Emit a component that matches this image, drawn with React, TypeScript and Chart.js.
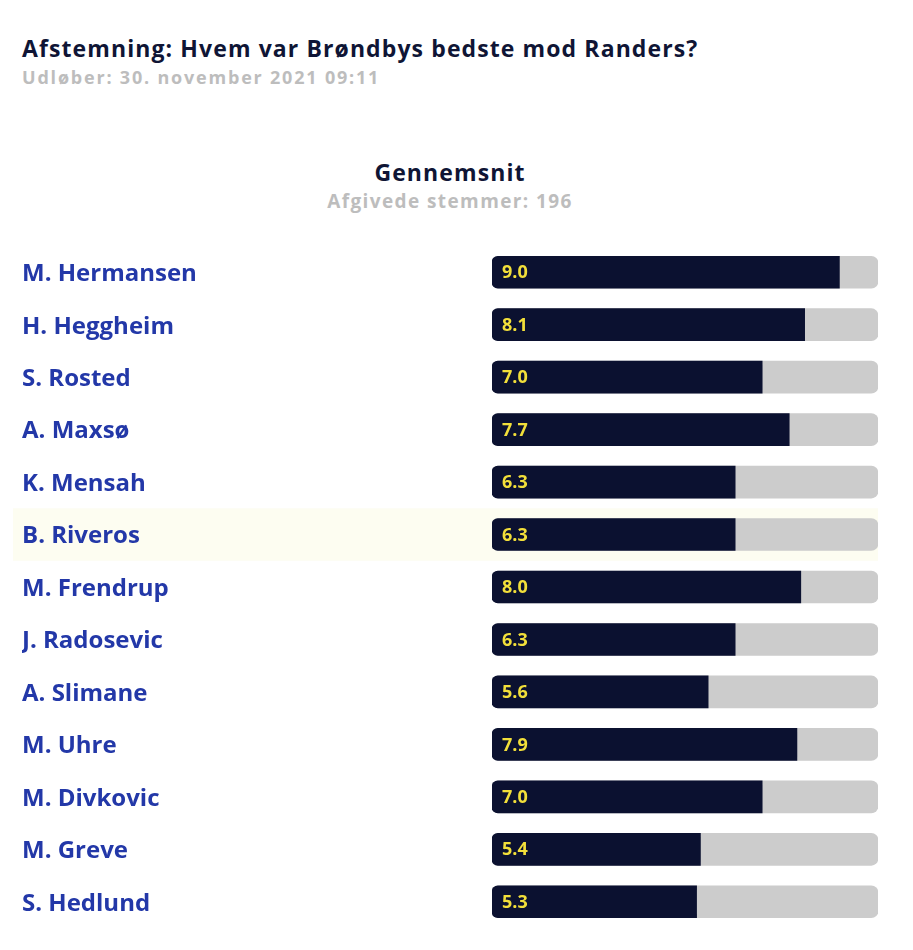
import React, { useEffect, useRef } from "react";
import { Chart, registerables } from "chart.js";

Chart.register(...registerables);

const players = [
  "M. Hermansen",
  "H. Heggheim",
  "S. Rosted",
  "A. Maxsø",
  "K. Mensah",
  "B. Riveros",
  "M. Frendrup",
  "J. Radosevic",
  "A. Slimane",
  "M. Uhre",
  "M. Divkovic",
  "M. Greve",
  "S. Hedlund",
];
const ratings = [9.0, 8.1, 7.0, 7.7, 6.3, 6.3, 8.0, 6.3, 5.6, 7.9, 7.0, 5.4, 5.3];
const maxRating = 10;
const highlightIndex = 5;

const FONT = "'Open Sans', Lato, sans-serif";

const highlightPlugin = {
  id: "rowHighlight",
  beforeDraw(chart: any) {
    const { ctx, chartArea, scales } = chart;
    const y = scales.y.getPixelForValue(highlightIndex);
    const step = (chartArea.bottom - chartArea.top) / players.length;
    ctx.save();
    ctx.fillStyle = "#fdfdf1";
    ctx.fillRect(13, y - step / 2, chartArea.right - 13, step);
    ctx.restore();
  },
};

const valueLabelPlugin = {
  id: "valueLabels",
  afterDatasetsDraw(chart: any) {
    const { ctx, chartArea } = chart;
    const meta = chart.getDatasetMeta(0);
    ctx.save();
    ctx.fillStyle = "#f2df3a";
    ctx.font = `bold 18px ${FONT}`;
    ctx.textAlign = "left";
    ctx.textBaseline = "middle";
    meta.data.forEach((bar: any, i: number) => {
      ctx.fillText(ratings[i].toFixed(1), chartArea.left + 10, bar.y + 1);
    });
    ctx.restore();
  },
};

export default function App() {
  const ref = useRef<HTMLCanvasElement | null>(null);
  useEffect(() => {
    if (!ref.current) return;
    const chart = new Chart(ref.current, {
      type: "bar",
      data: {
        labels: players,
        datasets: [
          {
            data: ratings,
            backgroundColor: "#0b1130",
            borderSkipped: false,
            borderRadius: { topLeft: 6, bottomLeft: 6, topRight: 0, bottomRight: 0 },
            barThickness: 32,
            grouped: false,
            order: 1,
          },
          {
            data: ratings.map(() => maxRating),
            backgroundColor: "#cccccc",
            borderSkipped: false,
            borderRadius: 7,
            barThickness: 32,
            grouped: false,
            order: 2,
          },
        ],
      },
      options: {
        indexAxis: "y",
        animation: false,
        responsive: false,
        events: [],
        layout: { padding: { left: 22, right: 35, top: 246, bottom: 22 } },
        plugins: { legend: { display: false }, tooltip: { enabled: false } },
        scales: {
          x: { display: false, min: 0, max: maxRating },
          y: {
            grid: { display: false },
            border: { display: false },
            afterFit: (s: any) => {
              s.width = 470;
            },
            ticks: {
              crossAlign: "far",
              labelOffset: 2,
              color: "#2338a8",
              font: { family: FONT, size: 24, weight: "bold" },
            },
          },
        },
      },
      plugins: [highlightPlugin, valueLabelPlugin],
    });
    return () => chart.destroy();
  }, []);

  return (
    <div style={{ position: "absolute", left: 0, top: 0, width: 913, height: 950, background: "#fff", fontFamily: FONT }}>
      <div style={{ position: "absolute", left: 22, top: 33, fontSize: 23, fontWeight: 700, letterSpacing: "1.1px", color: "#0f1535", whiteSpace: "nowrap", lineHeight: "30px" }}>
        Afstemning: Hvem var Brøndbys bedste mod Randers?
      </div>
      <div style={{ position: "absolute", left: 22, top: 65, fontSize: 18, fontWeight: 700, letterSpacing: "1.8px", color: "#bdbdbd", whiteSpace: "nowrap", lineHeight: "24px" }}>
        Udløber: 30. november 2021 09:11
      </div>
      <div style={{ position: "absolute", left: 0, width: 900, top: 157, textAlign: "center", fontSize: 23, fontWeight: 700, letterSpacing: "1.1px", color: "#0f1535", lineHeight: "30px" }}>
        Gennemsnit
      </div>
      <div style={{ position: "absolute", left: 0, width: 900, top: 189, textAlign: "center", fontSize: 19, fontWeight: 700, letterSpacing: "1.4px", color: "#bdbdbd", lineHeight: "24px" }}>
        Afgivede stemmer: 196
      </div>
      <canvas ref={ref} width={913} height={950} style={{ position: "absolute", left: 0, top: 0 }} />
    </div>
  );
}
